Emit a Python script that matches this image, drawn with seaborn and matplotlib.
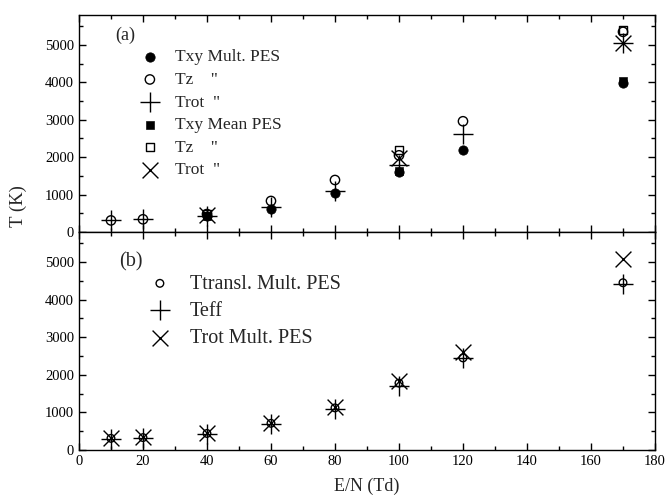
import seaborn as sns
import matplotlib.pyplot as plt
from matplotlib.ticker import MultipleLocator

# ---- data ----
# panel (a)
en_all = [10, 20, 40, 60, 80, 100, 120, 170]
en_txy = [40, 60, 80, 100, 120, 170]
txy_mult = [420, 610, 1040, 1600, 2180, 3970]
tz_mult = [310, 340, 480, 830, 1390, 2050, 2960, 5350]
trot_mult = [310, 340, 420, 680, 1100, 1780, 2610, 5040]
en_mean = [40, 100, 170]
txy_mean = [430, 1620, 4040]
tz_mean = [500, 2190, 5400]
trot_mean = [460, 1990, 5060]

# panel (b)
ttransl = [310, 330, 440, 710, 1120, 1780, 2450, 4450]
teff = [300, 330, 430, 680, 1100, 1690, 2450, 4430]
trot_b = [320, 340, 460, 720, 1140, 1830, 2600, 5070]

sns.set_style('ticks')
plt.rcParams['font.family'] = ['Liberation Serif', 'DejaVu Serif']

fig = plt.figure(figsize=(6.67, 4.98), dpi=100)
ax_a = fig.add_axes([0.1184, 0.5341, 0.8636, 0.4358])
ax_b = fig.add_axes([0.1184, 0.0964, 0.8636, 0.4377])

k = dict(color='black', linewidth=1.0)

# panel (a)
sns.scatterplot(x=en_txy, y=txy_mult, ax=ax_a, marker='o', s=45, edgecolor='black',
                color='black', label='Txy Mult. PES', zorder=3)
sns.scatterplot(x=en_all, y=tz_mult, ax=ax_a, marker='o', s=45, facecolor='none',
                edgecolor='black', color='black', linewidth=1.0, label='Tz    "', zorder=3)
sns.scatterplot(x=en_all, y=trot_mult, ax=ax_a, marker='+', s=200,
                label='Trot  "', zorder=3, **k)
sns.scatterplot(x=en_mean, y=txy_mean, ax=ax_a, marker='s', s=30, edgecolor='black',
                color='black', label='Txy Mean PES', zorder=3)
sns.scatterplot(x=en_mean, y=tz_mean, ax=ax_a, marker='s', s=30, facecolor='none',
                edgecolor='black', color='black', linewidth=1.0, label='Tz    "', zorder=3)
sns.scatterplot(x=en_mean, y=trot_mean, ax=ax_a, marker='x', s=130,
                label='Trot  "', zorder=3, **k)

# panel (b)
sns.scatterplot(x=en_all, y=ttransl, ax=ax_b, marker='o', s=30, facecolor='none',
                edgecolor='black', color='black', linewidth=1.0,
                label='Ttransl. Mult. PES', zorder=3)
sns.scatterplot(x=en_all, y=teff, ax=ax_b, marker='+', s=190,
                label='Teff', zorder=3, **k)
sns.scatterplot(x=en_all, y=trot_b, ax=ax_b, marker='x', s=130,
                label='Trot Mult. PES', zorder=3, **k)

for ax in (ax_a, ax_b):
    ax.set_xlim(0, 180)
    ax.set_ylim(0, 5800)
    ax.xaxis.set_major_locator(MultipleLocator(20))
    ax.xaxis.set_minor_locator(MultipleLocator(10))
    ax.yaxis.set_major_locator(MultipleLocator(1000))
    ax.yaxis.set_minor_locator(MultipleLocator(500))
    ax.tick_params(which='both', direction='in', top=True, right=True,
                   labelsize=10.5, width=1.0, color='black', labelcolor='black')
    ax.tick_params(which='major', length=5)
    ax.tick_params(which='minor', length=3)
    for sp in ax.spines.values():
        sp.set_visible(True)
        sp.set_color('black')
        sp.set_linewidth(1.0)
    ax.set_xlabel('')
    ax.set_ylabel('')

ax_a.tick_params(labelbottom=False)

ax_a.legend(loc='upper left', bbox_to_anchor=(0.105, 0.842), frameon=False,
            fontsize=12.5, handletextpad=0.83, labelspacing=0.37, borderaxespad=0,
            borderpad=0, handlelength=1.2)
ax_b.legend(loc='upper left', bbox_to_anchor=(0.123, 0.805), frameon=False,
            fontsize=14.5, handletextpad=0.99, labelspacing=0.4, borderaxespad=0,
            borderpad=0, handlelength=1.0)

ax_a.text(0.08, 0.908, '(a)', transform=ax_a.transAxes, fontsize=13,
          ha='center', va='center')
ax_b.text(0.09, 0.862, '(b)', transform=ax_b.transAxes, fontsize=14.5,
          ha='center', va='center')

fig.text(0.027, 0.586, 'T (K)', rotation=90, ha='center', va='center', fontsize=13.5)
fig.text(0.55, 0.024, 'E/N (Td)', ha='center', va='center', fontsize=13)

fig.savefig('out.png', dpi=100)
